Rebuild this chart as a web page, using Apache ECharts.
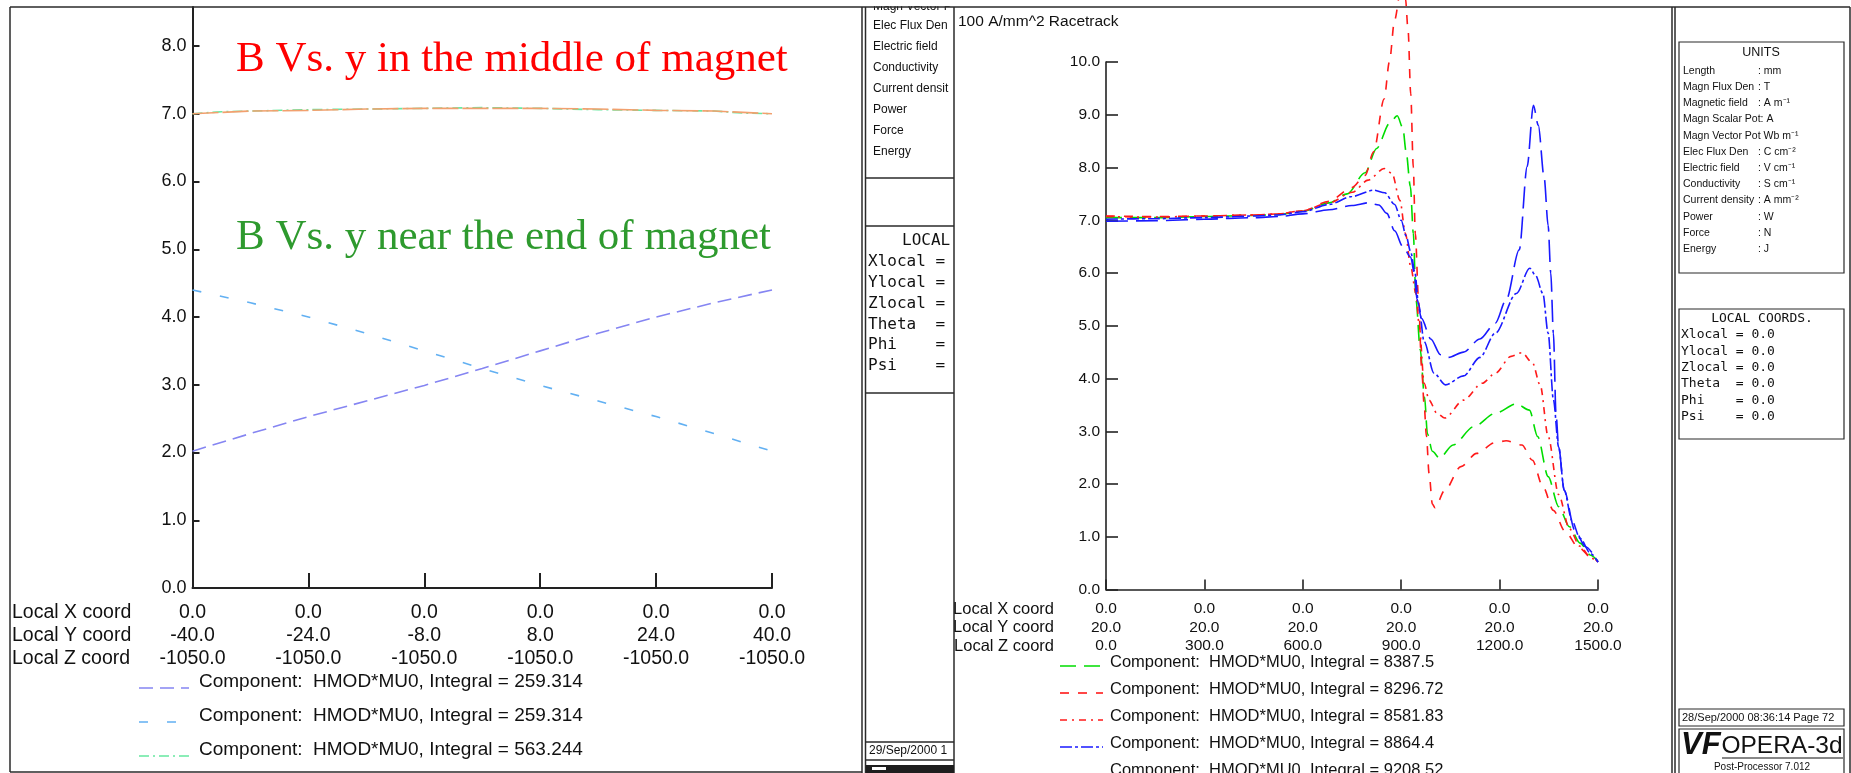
<!DOCTYPE html>
<html>
<head>
<meta charset="utf-8">
<script src="https://cdn.jsdelivr.net/npm/echarts@6/dist/echarts.min.js"></script>
<style>
  html, body { margin: 0; padding: 0; background: #fff; }
  #c { width: 1851px; height: 773px; }
</style>
</head>
<body>
<div id="c"></div>
<script>
// ---------- left plot: B along local y (x = 0, z = -1050) ----------
const leftPos = [-40, -32, -24, -16, -8, 0, 8, 16, 24, 32, 40];
const leftRising = [2.02, 2.28, 2.53, 2.76, 2.99, 3.24, 3.50, 3.76, 4.00, 4.21, 4.40];
const leftFalling = [4.40, 4.21, 4.00, 3.76, 3.50, 3.24, 2.99, 2.76, 2.53, 2.28, 2.02];
const leftMidPos = [-40, -36, -32, -24, -16, -8, 0, 8, 16, 24, 32, 36, 40];
const leftMidA = [7.00, 7.03, 7.04, 7.06, 7.07, 7.08, 7.09, 7.08, 7.06, 7.05, 7.04, 7.01, 7.00];
const leftMidB = [7.00, 7.02, 7.04, 7.05, 7.07, 7.08, 7.08, 7.08, 7.07, 7.05, 7.04, 7.02, 7.00];
const leftTicks = [-40, -24, -8, 8, 24, 40];
const leftTickX = ['0.0', '0.0', '0.0', '0.0', '0.0', '0.0'];
const leftTickY = ['-40.0', '-24.0', '-8.0', '8.0', '24.0', '40.0'];
const leftTickZ = ['-1050.0', '-1050.0', '-1050.0', '-1050.0', '-1050.0', '-1050.0'];
const leftYTicks = [0, 1, 2, 3, 4, 5, 6, 7, 8];
const leftLegend = [
  'Component:  HMOD*MU0, Integral = 259.314',
  'Component:  HMOD*MU0, Integral = 259.314',
  'Component:  HMOD*MU0, Integral = 563.244'
];
const rowNames = ['Local X coord', 'Local Y coord', 'Local Z coord'];

// ---------- right plot: B along local z (x = 0, y = 20) ----------
const rightTicks = [0, 300, 600, 900, 1200, 1500];
const rightTickX = ['0.0', '0.0', '0.0', '0.0', '0.0', '0.0'];
const rightTickY = ['20.0', '20.0', '20.0', '20.0', '20.0', '20.0'];
const rightTickZ = ['0.0', '300.0', '600.0', '900.0', '1200.0', '1500.0'];

const curveGreen = [[0,7.05],[150,7.05],[300,7.07],[450,7.09],[525,7.11],[600,7.17],[680,7.33],[735,7.50],[790,7.90],[825,8.36],[865,8.84],[888,8.98],[905,8.75],[915,8.30],[928,7.64],[937,6.75],[945,5.50],[958,4.55],[971,3.66],[980,2.95],[995,2.62],[1017,2.49],[1058,2.74],[1122,3.09],[1187,3.34],[1251,3.52],[1291,3.40],[1316,2.90],[1348,2.14],[1380,1.57],[1413,1.19],[1445,0.88],[1478,0.65],[1500,0.53]];
const curveRedDash = [[0,7.08],[150,7.07],[300,7.08],[450,7.10],[525,7.12],[600,7.18],[680,7.36],[750,7.62],[790,7.85],[816,8.30],[848,9.30],[864,10.0],[880,10.8],[898,11.35],[913,11.2],[921,10.6],[929,9.4],[937,8.0],[943,6.75],[953,5.49],[962,4.23],[970,3.5],[977,2.9],[985,2.2],[995,1.62],[1003,1.55],[1033,1.88],[1082,2.33],[1130,2.58],[1185,2.78],[1220,2.82],[1268,2.74],[1300,2.45],[1332,1.95],[1364,1.50],[1400,1.10],[1440,0.80],[1478,0.62],[1500,0.52]];
const curveRedDot = [[0,7.07],[150,7.06],[300,7.08],[450,7.10],[525,7.12],[600,7.18],[680,7.33],[751,7.53],[799,7.76],[848,7.98],[872,7.89],[896,7.38],[913,6.75],[929,6.12],[945,5.61],[955,5.0],[970,3.91],[985,3.59],[1009,3.34],[1033,3.25],[1090,3.59],[1147,3.91],[1187,4.10],[1235,4.42],[1268,4.49],[1300,4.30],[1324,3.87],[1348,2.90],[1380,1.80],[1413,1.15],[1445,0.82],[1478,0.60],[1500,0.52]];
const curveBlueDot = [[0,7.02],[150,7.03],[300,7.05],[450,7.08],[525,7.10],[600,7.16],[680,7.30],[750,7.45],[816,7.57],[850,7.52],[880,7.30],[900,7.0],[915,6.7],[929,6.4],[942,6.0],[953,5.4],[970,4.7],[1000,4.1],[1035,3.88],[1090,4.05],[1140,4.4],[1187,4.86],[1251,5.61],[1292,6.09],[1310,5.95],[1332,5.61],[1348,4.86],[1364,3.6],[1380,2.7],[1397,1.88],[1421,1.3],[1445,0.97],[1478,0.68],[1500,0.52]];
const curveBlueLong = [[0,6.98],[150,6.99],[300,7.02],[450,7.05],[525,7.07],[600,7.12],[680,7.2],[750,7.28],[800,7.33],[832,7.29],[856,7.13],[880,6.8],[905,6.5],[929,6.3],[940,6.0],[948,5.5],[962,5.14],[990,4.75],[1020,4.45],[1044,4.40],[1090,4.5],[1140,4.75],[1187,5.05],[1220,5.49],[1260,6.44],[1284,8.02],[1303,9.18],[1318,8.8],[1336,7.8],[1348,6.9],[1356,6.0],[1364,4.86],[1372,3.34],[1380,2.71],[1397,1.88],[1429,1.13],[1462,0.81],[1500,0.52]];
const rightLegend = [
  'Component:  HMOD*MU0, Integral = 8387.5',
  'Component:  HMOD*MU0, Integral = 8296.72',
  'Component:  HMOD*MU0, Integral = 8581.83',
  'Component:  HMOD*MU0, Integral = 8864.4',
  'Component:  HMOD*MU0, Integral = 9208.52'
];

// ---------- side panel texts ----------
const unitRows = [
  ['Length', ': mm'], ['Magn Flux Den', ': T'], ['Magnetic field', ': A m\u207B\u00B9'],
  ['Magn Scalar Pot: A', ''], ['Magn Vector Pot Wb m\u207B\u00B9', ''], ['Elec Flux Den', ': C cm\u207B\u00B2'],
  ['Electric field', ': V cm\u207B\u00B9'], ['Conductivity', ': S cm\u207B\u00B9'], ['Current density', ': A mm\u207B\u00B2'],
  ['Power', ': W'], ['Force', ': N'], ['Energy', ': J']
];
const stripUnitRows = ['Elec Flux Den', 'Electric field', 'Conductivity', 'Current densit', 'Power', 'Force', 'Energy'];
const localRows = ['Xlocal = 0.0', 'Ylocal = 0.0', 'Zlocal = 0.0', 'Theta  = 0.0', 'Phi    = 0.0', 'Psi    = 0.0'];
const stripLocalRows = ['Xlocal =', 'Ylocal =', 'Zlocal =', 'Theta  =', 'Phi    =', 'Psi    ='];

// ---------- styles ----------
const SANS = '"Liberation Sans", Arial, sans-serif';
const MONO = '"DejaVu Sans Mono", "Liberation Mono", monospace';
const SERIF = '"Liberation Serif", "Times New Roman", serif';
const leftStyles = [
  { color: '#8585f2', dash: [14, 7] },
  { color: '#62b0f2', dash: [9, 19] },
  { color: '#66e8a0', dash: [10, 4, 2, 4] }
];
const orangeStyle = { color: '#f2a06e', dash: [26, 4] };
const rightStyles = [
  { color: '#00dd00', dash: [16, 8] },
  { color: '#ff1a1a', dash: [9, 9] },
  { color: '#ff1a1a', dash: [7, 5, 2, 5] },
  { color: '#1a1aff', dash: [12, 3, 3, 3] },
  { color: '#1a1aff', dash: [22, 8] }
];
const frameColor = '#2a2a2a';

function pairs(xs, ys) { return xs.map((x, i) => [x, ys[i]]); }

function lineSeries(name, xi, data, st, extra) {
  return Object.assign({
    name: name, type: 'line', xAxisIndex: xi, yAxisIndex: xi, data: data,
    showSymbol: false, symbol: 'none', silent: true, animation: false,
    lineStyle: { color: st.color, width: 1.6, type: st.dash, cap: 'butt' }
  }, extra || {});
}

// ---------- graphic helpers ----------
const G = [];
function gLine(x1, y1, x2, y2, stroke, w, dash, z) {
  G.push({ type: 'line', silent: true, z: z || 0, shape: { x1, y1, x2, y2 },
    style: { stroke: stroke || frameColor, lineWidth: w || 1.5, lineDash: dash || null } });
}
function gRect(x, y, w, h, stroke, fill, z, lw) {
  G.push({ type: 'rect', silent: true, z: z || 0, shape: { x, y, width: w, height: h },
    style: { stroke: stroke || null, fill: fill || 'none', lineWidth: lw || 1.5 } });
}
function gText(x, y, text, font, fill, align, z) {
  G.push({ type: 'text', silent: true, z: z || 1, x, y,
    style: { text, font, fill: fill || '#111', textAlign: align || 'left', align: align || 'left',
      textVerticalAlign: 'middle', verticalAlign: 'middle' } });
}

// outer frames
gLine(10, 7, 1850, 7, frameColor, 1.5, null, 11);
gLine(10, 7, 10, 772);
gLine(10, 772, 862, 772);
gLine(862, 7, 862, 773);
gLine(865.5, 7, 865.5, 773);
gLine(954, 7, 954, 773);
gLine(1672, 7, 1672, 773);
gLine(1675, 7, 1675, 773);
gLine(1850, 7, 1850, 773);

// narrow strip between the plots
gText(873, 7, 'Magn Vector P', '12px ' + SANS);
gRect(866, 0, 88, 6.2, null, '#fff', 10);
stripUnitRows.forEach((t, i) => gText(873, 26 + i * 20.9, t, '12px ' + SANS));
gLine(865.5, 178, 954, 178);
gLine(865.5, 226, 954, 226);
gLine(865.5, 393, 954, 393);
gText(902, 241, 'LOCAL', '16px ' + MONO);
stripLocalRows.forEach((t, i) => gText(868, 262 + i * 20.8, t, '16px ' + MONO));
gLine(865.5, 742, 954, 742);
gLine(865.5, 760, 954, 760);
gText(869, 751, '29/Sep/2000 1', '12px ' + SANS);
gRect(866, 765, 88, 8, null, '#1e1e1e');
gRect(872, 767, 14, 3, null, '#fff');

// right info panel
gRect(1679, 42, 165, 231, frameColor, 'none', 0, 1.2);
gText(1761, 53, 'UNITS', '12.5px ' + SANS, '#111', 'center');
unitRows.forEach((r, i) => {
  gText(1683, 71 + i * 16.2, r[0], '10.5px ' + SANS);
  if (r[1]) gText(1758, 71 + i * 16.2, r[1], '10.5px ' + SANS);
});
gRect(1679, 309, 165, 130, frameColor, 'none', 0, 1.2);
gText(1762, 319, 'LOCAL COORDS.', '13px ' + MONO, '#111', 'center');
localRows.forEach((t, i) => gText(1681, 335 + i * 16.3, t, '13px ' + MONO));
gRect(1679, 709, 165, 17, frameColor, 'none', 0, 1.2);
gText(1682, 718, '28/Sep/2000 08:36:14 Page 72', '11px ' + SANS);
gRect(1679, 729, 165, 50, frameColor, 'none', 0, 1.2);
gText(1681, 745, 'VF', 'italic bold 31px ' + SANS, '#111');
gText(1782, 746, 'OPERA-3d', '24.5px ' + SANS, '#111', 'center');
gLine(1722, 758, 1843, 758, '#111', 1.2);
gText(1762, 767, 'Post-Processor 7.012', '10px ' + SANS, '#111', 'center');

// left plot annotations, row names and legend
gText(236, 60, 'B Vs. y in the middle of magnet', '43px ' + SERIF, '#ff0000');
gText(236, 238, 'B Vs. y near the end of magnet', '43px ' + SERIF, '#2e9a2e');
rowNames.forEach((t, i) => gText(12, 613 + i * 23, t, '19.5px ' + SANS));
leftLegend.forEach((t, i) => {
  const y = 682 + i * 34;
  gLine(139, y + 6, 189, y + 6, leftStyles[i].color, 1.6, leftStyles[i].dash, 3);
  gText(199, y, t, '19px ' + SANS);
});

// right plot title, row names and legend
gText(958, 22, '100 A/mm^2 Racetrack', '15.5px ' + SANS);
rowNames.forEach((t, i) => gText(1054, 609 + i * 18.5, t, '16.5px ' + SANS, '#111', 'right'));
rightLegend.forEach((t, i) => {
  const y = 662 + i * 27;
  gLine(1060, y + 4, 1103, y + 4, rightStyles[i].color, 1.6, rightStyles[i].dash, 3);
  gText(1110, y, t, '16.5px ' + SANS);
});

const axisLineL = { onZero: false, lineStyle: { color: '#222', width: 2 } };
const axisLineR = { onZero: false, lineStyle: { color: '#222', width: 1.6 } };

const option = {
  backgroundColor: '#fff',
  animation: false,
  grid: [
    { left: 192.5, top: 7, width: 579.5, height: 581, containLabel: false, outerBoundsMode: 'none' },
    { left: 1106, top: 62, width: 492, height: 527.5, containLabel: false, outerBoundsMode: 'none' }
  ],
  xAxis: [
    {
      type: 'value', gridIndex: 0, min: -40, max: 40, z: 3,
      axisLine: axisLineL, splitLine: { show: false },
      axisTick: { inside: true, length: 15, customValues: leftTicks, lineStyle: { color: '#222', width: 2 } },
      axisLabel: {
        customValues: leftTicks, color: '#111', fontFamily: SANS, fontSize: 19.5, lineHeight: 23, margin: 13.5,
        formatter: v => { const i = leftTicks.indexOf(v); return [leftTickX[i], leftTickY[i], leftTickZ[i]].join('\n'); }
      }
    },
    {
      type: 'value', gridIndex: 1, min: 0, max: 1500, interval: 300, z: 3,
      axisLine: axisLineR, splitLine: { show: false },
      axisTick: { inside: true, length: 10, lineStyle: { color: '#222', width: 1.6 } },
      axisLabel: {
        color: '#111', fontFamily: SANS, fontSize: 15.5, lineHeight: 18.5, margin: 10,
        formatter: v => { const i = rightTicks.indexOf(v); return [rightTickX[i], rightTickY[i], rightTickZ[i]].join('\n'); }
      }
    }
  ],
  yAxis: [
    {
      type: 'value', gridIndex: 0, min: 0, max: 8.576, z: 3,
      axisLine: axisLineL, splitLine: { show: false },
      axisTick: { inside: true, length: 7, customValues: leftYTicks, lineStyle: { color: '#222', width: 2 } },
      axisLabel: { customValues: leftYTicks, color: '#111', fontFamily: SANS, fontSize: 18, margin: 6,
        formatter: v => v.toFixed(1) }
    },
    {
      type: 'value', gridIndex: 1, min: 0, max: 10, interval: 1, z: 3,
      axisLine: axisLineR, splitLine: { show: false },
      axisTick: { inside: true, length: 12, lineStyle: { color: '#222', width: 1.6 } },
      axisLabel: { color: '#111', fontFamily: SANS, fontSize: 15.5, margin: 6, formatter: v => v.toFixed(1) }
    }
  ],
  series: [
    lineSeries('left rising', 0, pairs(leftPos, leftRising), leftStyles[0]),
    lineSeries('left falling', 0, pairs(leftPos, leftFalling), leftStyles[1]),
    lineSeries('left centre A', 0, pairs(leftMidPos, leftMidA), leftStyles[2]),
    lineSeries('left centre B', 0, pairs(leftMidPos, leftMidB), orangeStyle),
    lineSeries('green', 1, curveGreen, rightStyles[0], { smooth: 0.3, smoothMonotone: 'x' }),
    lineSeries('red dashed', 1, curveRedDash, rightStyles[1], { smooth: 0.3, smoothMonotone: 'x', clip: false }),
    lineSeries('red dot-dash', 1, curveRedDot, rightStyles[2], { smooth: 0.3, smoothMonotone: 'x' }),
    lineSeries('blue dot-dash', 1, curveBlueDot, rightStyles[3], { smooth: 0.3, smoothMonotone: 'x' }),
    lineSeries('blue long dash', 1, curveBlueLong, rightStyles[4], { smooth: 0.3, smoothMonotone: 'x' })
  ],
  graphic: { elements: G }
};

const chart = echarts.init(document.getElementById('c'), null, { renderer: 'canvas' });
chart.setOption(option);
</script>
</body>
</html>
